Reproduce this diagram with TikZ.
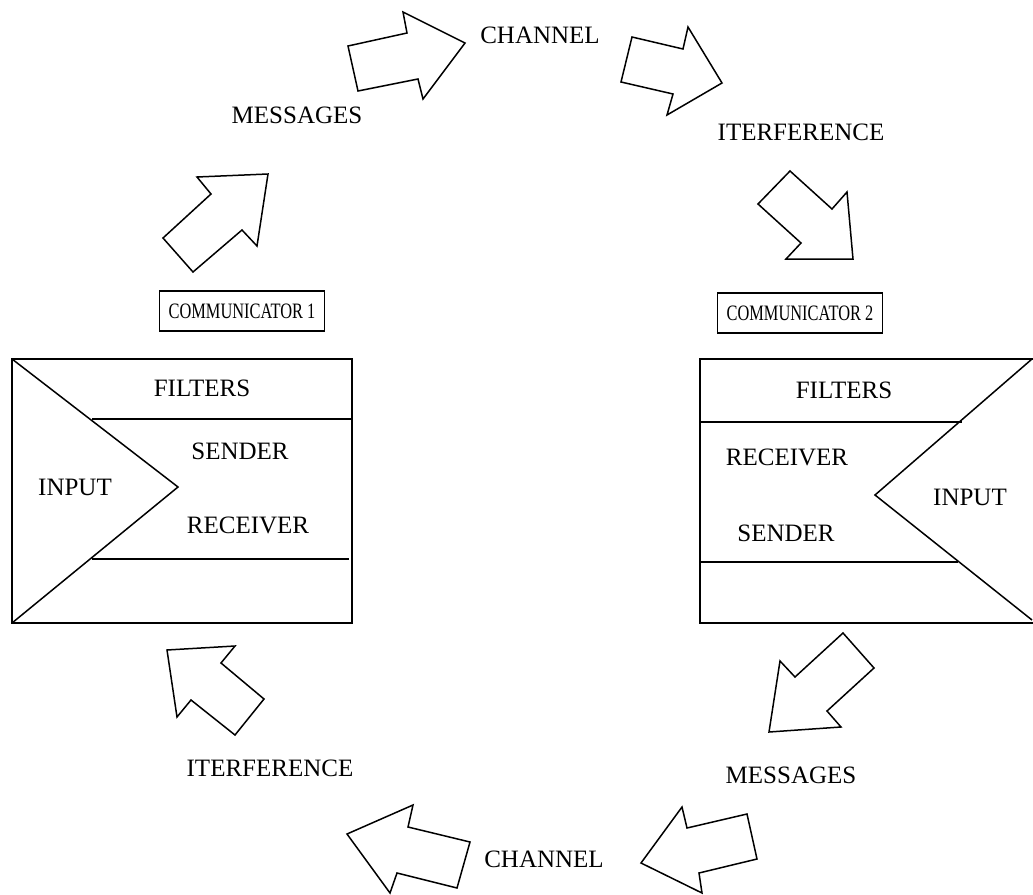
\documentclass[tikz,border=0pt]{standalone}
\usepackage{fontspec}
\setmainfont{Liberation Serif}
\newcommand{\boxname}[1]{\scalebox{0.745}[1]{\fontsize{22}{26}\selectfont #1}}
\begin{document}
\begin{tikzpicture}[x=1pt,y=-1pt,
  line width=1.5pt, line join=miter,
  lbl/.style={font=\fontsize{25}{30}\selectfont, inner sep=0pt},
  namebox/.style={draw, line width=1.2pt, minimum width=165pt, minimum height=40pt, inner sep=0pt},
  blockarrow/.style={draw, line width=1.5pt, fill=white}]
\useasboundingbox (0,0) rectangle (1033,894);

% Communicator 1
\node[namebox] (c1) at (242,311) {\boxname{COMMUNICATOR 1}};
\draw (12,359) rectangle (352,623);
\draw (92,419) -- (352,419);
\draw (92,559) -- (349,559);
\draw (12,359) -- (178,487) -- (12,623);
\node[lbl] (f1) at (202,388) {FILTERS};
\node[lbl] (s1) at (240,451) {SENDER};
\node[lbl] (i1) at (75,487) {INPUT};
\node[lbl] (r1) at (248,525) {RECEIVER};

% Communicator 2
\node[namebox] (c2) at (800,313) {\boxname{COMMUNICATOR 2}};
\draw (1033,359) -- (700,359) -- (700,623) -- (1033,623);
\draw (700,422) -- (962,422);
\draw (700,562) -- (958,562);
\draw (1032,359) -- (875,495) -- (1032,620);
\node[lbl] (f2) at (844,390) {FILTERS};
\node[lbl] (r2) at (787,457) {RECEIVER};
\node[lbl] (i2) at (970,497) {INPUT};
\node[lbl] (s2) at (786,533) {SENDER};

% cycle labels
\node[lbl] (m1) at (297,115) {MESSAGES};
\node[lbl] (ch1) at (540,35) {CHANNEL};
\node[lbl] (it1) at (801,132) {ITERFERENCE};
\node[lbl] (m2) at (791,775) {MESSAGES};
\node[lbl] (ch2) at (544,859) {CHANNEL};
\node[lbl] (it2) at (270,768) {ITERFERENCE};

% block arrows around the cycle
\draw[blockarrow] (268,174) -- (257,246) -- (242,230) -- (193,272) -- (163,238) -- (211,194) -- (197,177) -- cycle;
\draw[blockarrow] (465,43) -- (403,12) -- (407,33) -- (348,46) -- (358,91) -- (418,79) -- (423,99) -- cycle;
\draw[blockarrow] (722,83) -- (688,27) -- (683,49) -- (632,37) -- (621,82) -- (673,94) -- (667,115) -- cycle;
\draw[blockarrow] (853,259) -- (847,192) -- (832,209) -- (790,171) -- (758,204) -- (801,243) -- (786,259) -- cycle;
\draw[blockarrow] (769,732) -- (780,661) -- (795,677) -- (843,633) -- (874,668) -- (827,711) -- (841,727) -- cycle;
\draw[blockarrow] (641,863) -- (682,807) -- (687,828) -- (747,814) -- (757,859) -- (699,873) -- (702,893) -- cycle;
\draw[blockarrow] (347,834) -- (413,805) -- (408,827) -- (470,842) -- (457,888) -- (397,873) -- (390,893) -- cycle;
\draw[blockarrow] (167,650) -- (235,646) -- (221,663) -- (264,699) -- (235,735) -- (191,700) -- (177,717) -- cycle;
\end{tikzpicture}
\end{document}
